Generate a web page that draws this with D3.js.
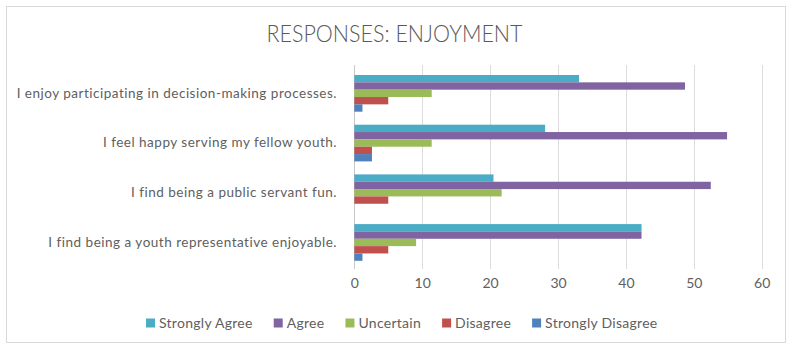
<!DOCTYPE html>
<html>
<head>
<meta charset="utf-8">
<script src="https://cdn.jsdelivr.net/npm/d3@7"></script>
<style>
  html, body { margin: 0; padding: 0; background: #fff; }
  svg { display: block; }
  text { font-family: Lato, "Open Sans", sans-serif; fill: #606060; }
</style>
</head>
<body>
<svg id="chart" width="788" height="347"></svg>
<script>
// Survey responses (percent of respondents) per statement
const categories = [
  "I enjoy participating in decision-making processes.",
  "I feel happy serving my fellow youth.",
  "I find being a public servant fun.",
  "I find being a youth representative enjoyable."
];
const seriesNames = ["Strongly Agree", "Agree", "Uncertain", "Disagree", "Strongly Disagree"];
const stronglyAgree    = [33.1, 28.1, 20.5, 42.3];
const agree            = [48.7, 54.9, 52.5, 42.3];
const uncertain        = [11.4, 11.4, 21.7, 9.1];
const disagree         = [5.0, 2.6, 5.0, 5.0];
const stronglyDisagree = [1.2, 2.6, 0, 1.2];
const xTicks = [0, 10, 20, 30, 40, 50, 60];
const colors = ["#4bacc6", "#8064a2", "#9bbb59", "#c0504d", "#4f81bd"];

const seriesValues = [stronglyAgree, agree, uncertain, disagree, stronglyDisagree];

const svg = d3.select("#chart");

// outer chart frame
svg.append("rect")
  .attr("x", 6.5).attr("y", 6.5)
  .attr("width", 779).attr("height", 336)
  .attr("fill", "#fff")
  .attr("stroke", "#d9d9d9");

// title
svg.append("text")
  .attr("x", 394.5).attr("y", 42)
  .attr("text-anchor", "middle")
  .attr("font-size", 23)
  .attr("font-weight", 300)
  .attr("textLength", 256)
  .attr("lengthAdjust", "spacingAndGlyphs")
  .style("fill", "#595959")
  .text("RESPONSES: ENJOYMENT");

const x = d3.scaleLinear().domain([0, 60]).range([354.3, 761.7]);
const y = d3.scaleBand().domain(categories).range([68.5, 267.3])
  .paddingInner(0.2616).paddingOuter(0.1308);
const ySub = d3.scaleBand().domain(seriesNames).range([0, y.bandwidth()]);

const gridTop = 65, gridBottom = 269;

// vertical gridlines
svg.append("g").selectAll("line")
  .data(xTicks)
  .join("line")
  .attr("x1", d => Math.round(x(d)) + 0.5)
  .attr("x2", d => Math.round(x(d)) + 0.5)
  .attr("y1", gridTop).attr("y2", gridBottom)
  .attr("stroke", d => d === 0 ? "#c8c8c8" : "#dcdcdc")
  .attr("stroke-width", 1);

// bars
const rows = categories.map((c, i) => ({
  category: c,
  values: seriesNames.map((s, j) => ({ series: s, value: seriesValues[j][i], color: colors[j] }))
}));

const groups = svg.append("g").selectAll("g")
  .data(rows)
  .join("g")
  .attr("transform", d => `translate(0,${y(d.category)})`);

groups.selectAll("rect")
  .data(d => d.values)
  .join("rect")
  .attr("x", x(0))
  .attr("y", d => ySub(d.series))
  .attr("width", d => x(d.value) - x(0))
  .attr("height", ySub.bandwidth())
  .attr("fill", d => d.color);

// x axis labels
const xAxis = d3.axisBottom(x).tickValues(xTicks).tickSize(0).tickPadding(0);
const gx = svg.append("g")
  .attr("transform", `translate(0,${gridBottom + 9})`)
  .call(xAxis);
gx.select(".domain").remove();
gx.selectAll("text")
  .attr("font-size", 14)
  .style("font-family", "Lato, 'Open Sans', sans-serif")
  .style("fill", "#606060");

// category labels
const yAxis = d3.axisLeft(y).tickSize(0).tickPadding(0);
const gy = svg.append("g")
  .attr("transform", `translate(337,0)`)
  .call(yAxis);
gy.select(".domain").remove();
gy.selectAll("text")
  .attr("font-size", 13.5)
  .attr("letter-spacing", 0.5)
  .style("font-family", "Lato, 'Open Sans', sans-serif")
  .style("fill", "#606060");

// legend
const legend = svg.append("g").attr("transform", "translate(146,323)");
let cx = 0;
seriesNames.forEach((name, i) => {
  const item = legend.append("g").attr("transform", `translate(${cx},0)`);
  item.append("rect")
    .attr("x", 0).attr("y", -4.5)
    .attr("width", 9).attr("height", 9)
    .attr("fill", colors[i]);
  const t = item.append("text")
    .attr("x", 13).attr("y", 5)
    .attr("font-size", 14)
    .attr("letter-spacing", 0.28)
    .text(name);
  cx += 13 + t.node().getComputedTextLength() + 21;
});
</script>
</body>
</html>
